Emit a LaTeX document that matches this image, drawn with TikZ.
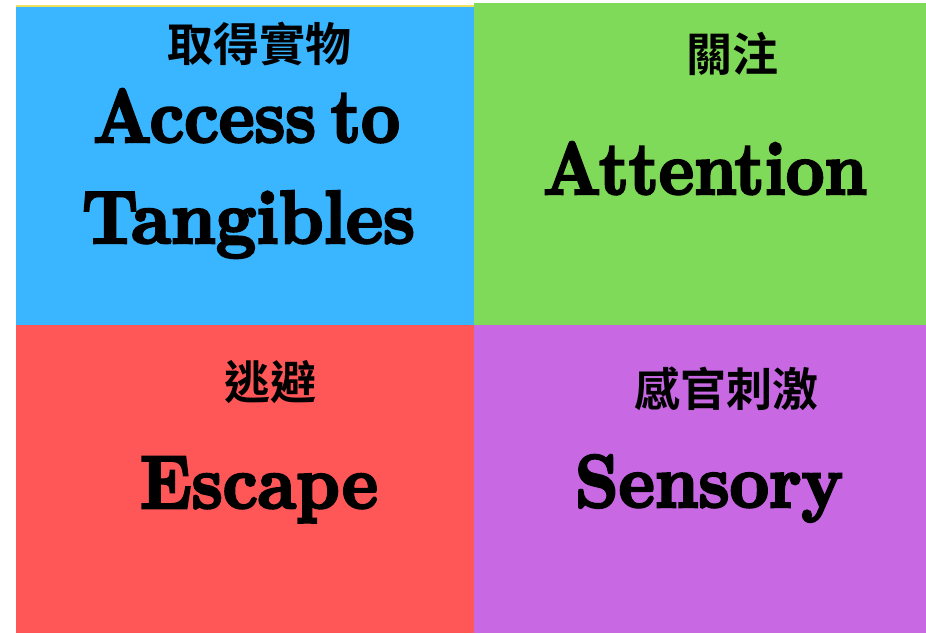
\documentclass[tikz,border=0pt]{standalone}
\usepackage{fontspec}
\newfontfamily\cjk{Noto Sans CJK TC Bold}
\newfontfamily\fatface{lmroman10-bold}[Extension=.otf, FakeBold=3.5]
\definecolor{qblue}{RGB}{58,181,255}
\definecolor{qgreen}{RGB}{128,218,90}
\definecolor{qred}{RGB}{255,87,87}
\definecolor{qpurple}{RGB}{200,104,227}
\definecolor{qyellow}{RGB}{240,225,90}
\tikzset{
  zh/.style={inner sep=0pt, font=\cjk\fontsize{46}{46}\selectfont, text=black},
  en/.style={inner sep=0pt, anchor=base, text=black},
}
\newcommand{\fat}[3]{\resizebox{#1pt}{#2pt}{\fatface #3}}
\begin{document}
\begin{tikzpicture}[x=1pt,y=1pt]
\useasboundingbox (0,0) rectangle (926,633);
\fill[white] (0,0) rectangle (926,633);
% quadrants
\fill[qgreen] (474,308) rectangle (926,630);
\fill[qblue] (16,308) rectangle (474,626);
\fill[qyellow] (16,626) rectangle (474,628);
\fill[qred] (16,0) rectangle (474,308);
\fill[qpurple] (474,0) rectangle (926,308);
% Chinese labels
\node[zh] (zhA) at (259.5,589) {取得實物};
\node[zh] (zhB) at (732,579.5) {關注};
\node[zh] (zhC) at (270,250.5) {逃避};
\node[zh] (zhD) at (726.5,244.5) {感官刺激};
% English labels
\node[en] (enA1) at (246.5,491) {\fat{307}{53}{Access\hspace{0.22em}to}};
\node[en] (enA2) at (248.5,390) {\fat{333}{52}{Tangibles}};
\node[en] (enB) at (705,439) {\fat{324}{52}{Attention}};
\node[en] (enC) at (259,125) {\fat{238}{51}{Escape}};
\node[en] (enD) at (709,126) {\fat{268}{52}{Sensory}};
\end{tikzpicture}
\end{document}
